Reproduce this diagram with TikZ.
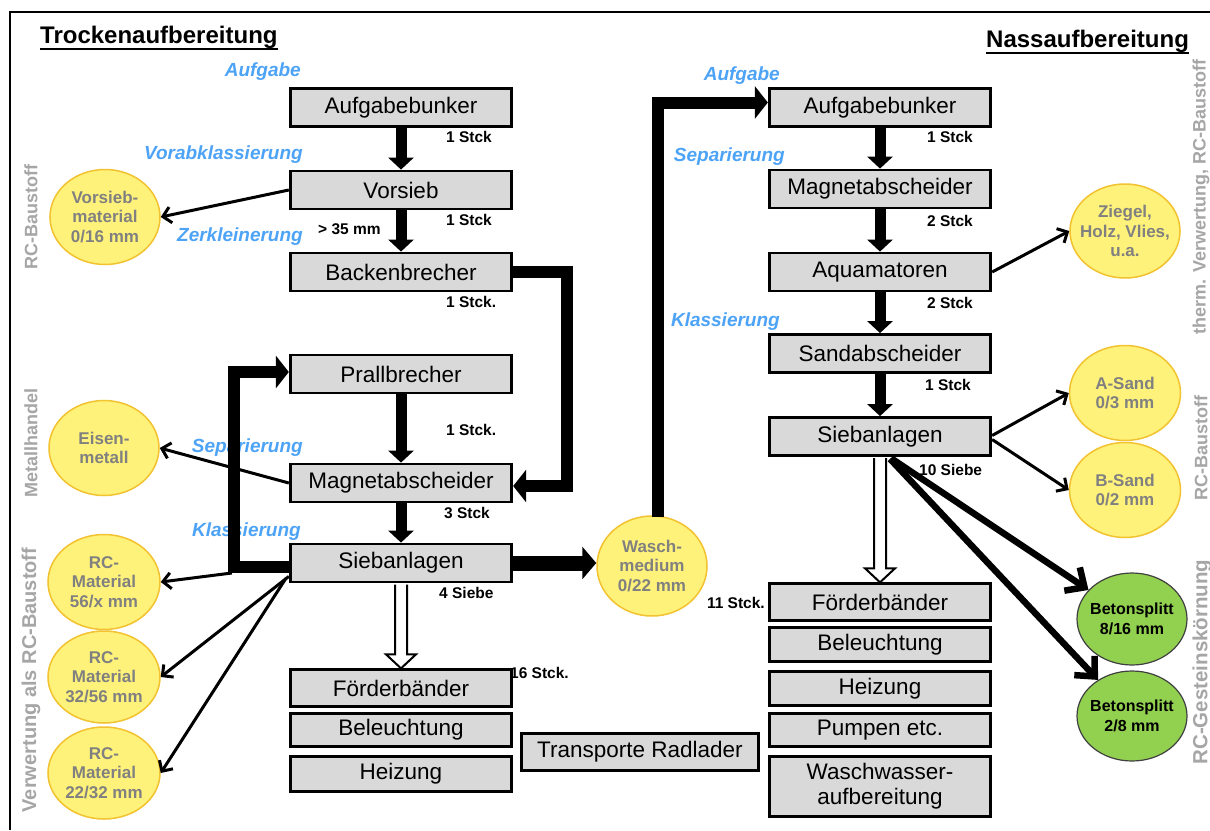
\documentclass[tikz,border=0pt]{standalone}
\usepackage{fontspec}
\setmainfont{Liberation Sans}
\usetikzlibrary{arrows.meta,shapes.geometric,calc}
\definecolor{boxgray}{HTML}{D9D9D9}
\definecolor{yfill}{HTML}{FFF27A}
\definecolor{ybord}{HTML}{F2C230}
\definecolor{gfill}{HTML}{92D050}
\definecolor{stageblue}{HTML}{4DA3F5}
\definecolor{ctextgray}{HTML}{808080}
\definecolor{vgray}{HTML}{A6A6A6}
\newcommand\fsz[2]{\fontsize{#1}{#2}\selectfont}
\begin{document}
\begin{tikzpicture}[x=1pt,y=-1pt,
  box/.style={draw, line width=2.8pt, fill=boxgray, minimum width=221.5pt, minimum height=38pt, inner sep=0pt, align=center, font=\fsz{22.5}{24}},
  stck/.style={font=\bfseries\fsz{15.5}{17}, inner sep=0pt, anchor=west},
  stage/.style={font=\bfseries\itshape\fsz{19}{21}, text=stageblue, inner sep=0pt, anchor=east},
  yc/.style={ellipse, draw=ybord, line width=1.5pt, fill=yfill, minimum width=110pt, minimum height=95pt, inner sep=0pt},
  ctext/.style={font=\bfseries\fsz{17}{19.5}, text=ctextgray, align=center, inner sep=0pt},
  gc/.style={ellipse, draw=black!75, line width=1.2pt, fill=gfill, minimum width=110pt, minimum height=92pt, inner sep=0pt},
  gtext/.style={font=\bfseries\fsz{16}{20}, align=center, inner sep=0pt},
  vlab/.style={rotate=90, font=\bfseries\fsz{18}{20}, text=vgray, inner sep=0pt},
  ttl/.style={font=\bfseries\fsz{24}{26}, inner sep=0pt, anchor=base west},
  flow/.style={line width=11pt, -{Triangle[length=12pt,width=25pt]}},
  loopline/.style={line width=12pt, line join=miter, -{Triangle[length=13pt,width=32pt]}},
  pointer/.style={line width=3pt, -{Straight Barb[length=8pt,width=16pt]}},
  fat/.style={line width=6.5pt, -{Straight Barb[length=15pt,width=28pt]}},
  hollow/.style={draw=black, line width=2pt, fill=white, line join=miter}
]
\useasboundingbox (0,0) rectangle (1210,830);
\fill[white] (0,0) rectangle (1210,830);
\draw[line width=2pt] (10,830) -- (10,12) -- (1210,12);

% titles
\node[ttl] (tT) at (40,43) {Trockenaufbereitung};
\draw[line width=2pt] ($(tT.base west)+(0,6)$) -- ($(tT.base east)+(0,6)$);
\node[ttl] (tN) at (986,47) {Nassaufbereitung};
\draw[line width=2pt] ($(tN.base west)+(0,6)$) -- ($(tN.base east)+(0,6)$);

% stage labels
\node[stage] (s1) at (301,72) {Aufgabe};
\node[stage] (s2) at (303,155) {Vorabklassierung};
\node[stage] (s3) at (303,237) {Zerkleinerung};
\node[stage] (s4) at (303,448) {Separierung};
\node[stage] (s5) at (301,532) {Klassierung};
\node[stage] (s6) at (780,76) {Aufgabe};
\node[stage] (s7) at (785,157) {Separierung};
\node[stage] (s8) at (780,322) {Klassierung};

% vertical labels
\node[vlab] (v1) at (31,217) {RC-Baustoff};
\node[vlab] (v2) at (31,443) {Metallhandel};
\node[vlab, font=\bfseries\fsz{20}{22}] (v3) at (31,680) {Verwertung als RC-Baustoff};
\node[vlab] (v4) at (1201,197) {therm. Verwertung, RC-Baustoff};
\node[vlab] (v5) at (1201,448) {RC-Baustoff};
\node[vlab, font=\bfseries\fsz{20.5}{22}] (v6) at (1202,662) {RC-Gesteinskörnung};

% count labels
\node[stck] (k1) at (446,137) {1 Stck};
\node[stck] (k2) at (446,220) {1 Stck};
\node[stck] (k3) at (318,229) {> 35 mm};
\node[stck] (k4) at (446,302) {1 Stck.};
\node[stck] (k5) at (446,430) {1 Stck.};
\node[stck] (k6) at (444,513) {3 Stck};
\node[stck] (k7) at (439,593) {4 Siebe};
\node[stck] (k8) at (510,673) {16 Stck.};
\node[stck] (k9) at (927,137) {1 Stck};
\node[stck] (k10) at (927,221) {2 Stck};
\node[stck] (k11) at (927,303) {2 Stck};
\node[stck] (k12) at (925,385) {1 Stck};
\node[stck] (k13) at (919,470) {10 Siebe};
\node[stck, anchor=east] (k14) at (765,603) {11 Stck.};

% left column boxes
\node[box] (lA) at (401,107.5) {Aufgabebunker};
\node[box] (lV) at (401,190) {Vorsieb};
\node[box] (lB) at (401,272) {Backenbrecher};
\node[box] (lP) at (401,374) {Prallbrecher};
\node[box] (lM) at (401,483) {Magnetabscheider};
\node[box] (lS) at (401,563) {Siebanlagen};
\node[box, minimum height=36.5pt] (lF) at (401,688) {Förderbänder};
\node[box, minimum height=33.5pt] (lBe) at (401,730) {Beleuchtung};
\node[box, minimum height=35.5pt] (lH) at (401,774) {Heizung};
\node[box, minimum width=237.5pt, minimum height=37.5pt] (tR) at (640,752) {Transporte Radlader};

% right column boxes
\node[box] (rA) at (880,107.5) {Aufgabebunker};
\node[box] (rM) at (880,189) {Magnetabscheider};
\node[box] (rAq) at (880,272) {Aquamatoren};
\node[box] (rSa) at (880,353.5) {Sandabscheider};
\node[box] (rS) at (880,436.5) {Siebanlagen};
\node[box, minimum height=36.5pt] (rF) at (880,602) {Förderbänder};
\node[box, minimum height=34.5pt] (rBe) at (880,644.5) {Beleuchtung};
\node[box, minimum height=34.5pt] (rH) at (880,688.5) {Heizung};
\node[box, minimum height=33.5pt] (rP) at (880,730) {Pumpen etc.};
\node[box, minimum height=60.5pt, font=\fsz{22.5}{25}] (rW) at (880,786.5) {Waschwasser-\\aufbereitung};

% circles
\node[yc] (cV) at (105,217) {};
\node[ctext] (cVt) at (cV) {Vorsieb-\\material\\0/16 mm};
\node[yc] (cE) at (104,448) {};
\node[ctext] (cEt) at (cE) {Eisen-\\metall};
\node[yc, minimum width=112pt] (c1) at (104,582) {};
\node[ctext] (c1t) at (c1) {RC-\\Material\\56/x mm};
\node[yc, minimum width=112pt, minimum height=92pt] (c2) at (104,677) {};
\node[ctext] (c2t) at (c2) {RC-\\Material\\32/56 mm};
\node[yc, minimum width=112pt, minimum height=92pt] (c3) at (104,773) {};
\node[ctext] (c3t) at (c3) {RC-\\Material\\22/32 mm};
\node[yc, minimum height=100pt] (cW) at (652,566) {};
\node[ctext] (cWt) at (cW) {Wasch-\\medium\\0/22 mm};
\node[yc, minimum height=94pt] (cZ) at (1125,231) {};
\node[ctext] (cZt) at (cZ) {Ziegel,\\Holz, Vlies,\\u.a.};
\node[yc, minimum width=111pt] (cA) at (1125,393) {};
\node[ctext] (cAt) at (cA) {A-Sand\\0/3 mm};
\node[yc, minimum width=111pt] (cB) at (1125,490) {};
\node[ctext] (cBt) at (cB) {B-Sand\\0/2 mm};
\node[gc] (cG1) at (1132,619) {};
\node[gtext] (cG1t) at (cG1) {Betonsplitt\\8/16 mm};
\node[gc, minimum height=90pt] (cG2) at (1132,716) {};
\node[gtext] (cG2t) at (cG2) {Betonsplitt\\2/8 mm};

% main flow arrows
\draw[flow] (lA.south) -- (lV.north);
\draw[flow] (lV.south) -- (lB.north);
\draw[flow] (lP.south) -- (lM.north);
\draw[flow] (lM.south) -- (lS.north);
\draw[flow] (rA.south) -- (rM.north);
\draw[flow] (rM.south) -- (rAq.north);
\draw[flow] (rAq.south) -- (rSa.north);
\draw[flow] (rSa.south) -- (rS.north);

% loops
\draw[loopline] (lB.east) -- ++(54,0) |- ($(lM.east)+(0,3)$);
\draw[loopline] ($(lS.west)+(0,4)$) -- ++(-55,0) |- ($(lP.west)+(0,-2)$);
\draw[line width=15pt, -{Triangle[length=14pt,width=32pt]}] (lS.east) -- ($(cW.west)+(0,-3)$);
\draw[loopline] ($(cW.north)+(6,2)$) |- ($(rA.west)+(0,-5)$);

% hollow arrows
\draw[hollow] ($(lS.south)+(-6,1.25)$) -- ($(lF.north)+(-6,-14)$) -- ($(lF.north)+(-15,-14)$) -- (lF.north) -- ($(lF.north)+(15,-14)$) -- ($(lF.north)+(6,-14)$) -- ($(lS.south)+(6,1.25)$);
\draw[hollow] ($(rS.south)+(-6,1.25)$) -- ($(rF.north)+(-6,-14)$) -- ($(rF.north)+(-15,-14)$) -- (rF.north) -- ($(rF.north)+(15,-14)$) -- ($(rF.north)+(6,-14)$) -- ($(rS.south)+(6,1.25)$);

% thin output arrows
\draw[pointer] (lV.west) -- (cV.east);
\draw[pointer] (lM.west) -- (cE.east);
\draw[pointer] ($(lS.west)+(-57,10)$) -- (c1.east);
\draw[pointer] ($(lS.south west)+(0,-7)$) -- (c2.east);
\draw[pointer] ($(lS.south west)+(-3,-5)$) -- (c3.east);
\draw[pointer] (rAq.east) -- (cZ.west);
\draw[pointer] ($(rS.east)+(0,-1)$) -- (cA.west);
\draw[pointer] ($(rS.east)+(0,3)$) -- (cB.west);

% thick output arrows
\draw[fat] ($(rS.south)+(12,2)$) -- (cG1);
\draw[fat] ($(rS.south)+(10,2)$) -- (cG2);
\end{tikzpicture}
\end{document}
